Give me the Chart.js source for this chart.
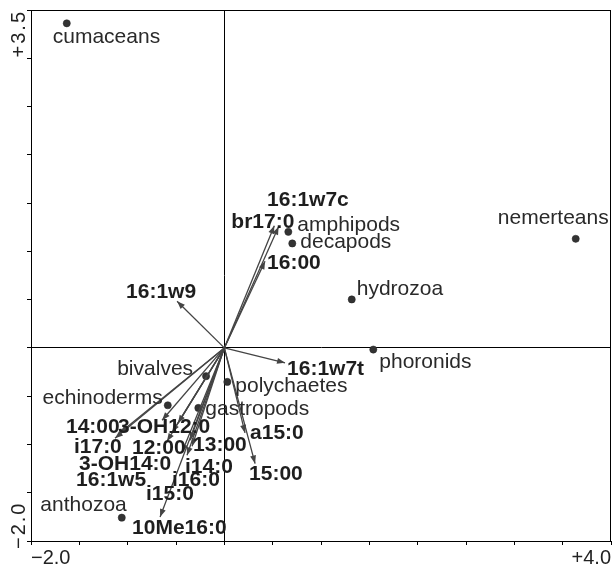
<!DOCTYPE html>
<html><head><meta charset="utf-8">
<script src="https://cdn.jsdelivr.net/npm/chart.js@4.4.1/dist/chart.umd.min.js"></script>
<style>html,body{margin:0;padding:0;background:#fff}#wrap{width:616px;height:567px;position:relative}</style>
</head><body><div id="wrap"><canvas id="c" width="616" height="567"></canvas></div>
<script>
// ---- DATA ----
const speciesNames = ["cumaceans","nemerteans","amphipods","decapods","hydrozoa","phoronids","bivalves","polychaetes","echinoderms","gastropods","anthozoa"];
const speciesX = [-1.63, 3.635, 0.662, 0.703, 1.318, 1.541, -0.189, 0.031, -0.585, -0.269, -1.061];
const speciesY = [3.362, 1.130, 1.202, 1.082, 0.502, -0.017, -0.293, -0.352, -0.594, -0.622, -1.758];

const acidNames = ["16:1w7c","br17:0","16:00","16:1w9","16:1w7t","a15:0","15:00","10Me16:0","14:00","i17:0","3-OH12:0","12:00","3-OH14:0","16:1w5","13:00","i14:0","i16:0","i15:0"];
const acidX = [0.561, 0.517, 0.421, -0.489, 0.628, 0.214, 0.318, -0.665, -1.131, -1.08, -0.644, -0.593, -0.541, -0.479, -0.334, -0.386, -0.355, -0.438];
const acidY = [1.256, 1.266, 0.898, 0.484, -0.155, -0.881, -1.198, -1.751, -0.936, -0.88, -0.749, -0.967, -0.874, -0.780, -1.019, -1.112, -0.956, -1.081];

const xTickLabels = {"-2": "\u22122.0", "4": "+4.0"};
const yTickLabels = {"-2": "\u22122.0", "3.5": "+3.5"};

// ---- STYLE (label placement offsets in px) ----
const speciesLabelStyle = [
  {a:"left",dx:-14,dy:14},{a:"right",dx:33,dy:-21},{a:"left",dx:9,dy:-7},{a:"left",dx:8,dy:-1},
  {a:"left",dx:5,dy:-10},{a:"left",dx:6,dy:13},{a:"right",dx:-13,dy:-7},{a:"left",dx:8,dy:4},
  {a:"right",dx:-5,dy:-7},{a:"left",dx:7,dy:1},{a:"right",dx:5,dy:-12}
];
const acidLabelStyle = [
  {dx:-11.5,dy:-26},{dx:-43,dy:-3},{dx:2,dy:2},{dx:-51,dy:-9},{dx:2,dy:6},{dx:5,dy:0},{dx:-6,dy:11},
  {dx:-28,dy:11},{dx:-49,dy:-11},{dx:-46,dy:14},{dx:-44,dy:7},{dx:-35,dy:7},{dx:-93,dy:32},
  {dx:-102,dy:57},{dx:1,dy:-1},{dx:-2,dy:12},{dx:-18,dy:40},{dx:-36,dy:42}
];
const FONT = "'Liberation Sans', Arial, Helvetica, sans-serif";
const ARROW_COLOR = "#444";

const datasets = [];
acidNames.forEach((n,i)=>{
  datasets.push({type:'line', label:n, data:[{x:0,y:0},{x:acidX[i],y:acidY[i]}],
    borderColor:ARROW_COLOR, borderWidth:1.3, pointRadius:0, fill:false, showLine:true, tension:0});
});
datasets.push({type:'scatter', label:'species', data:speciesX.map((x,i)=>({x, y:speciesY[i]})),
  pointRadius:3.6, backgroundColor:'#333', borderColor:'#222', borderWidth:0.5});

const overlay = {
  id:'overlay',
  afterDatasetsDraw(chart){
    const ctx = chart.ctx, xs = chart.scales.x, ys = chart.scales.y, ca = chart.chartArea;
    ctx.save();
    ctx.strokeStyle = '#000'; ctx.lineWidth = 1;
    ctx.strokeRect(Math.round(ca.left)+0.5, Math.round(ca.top)+0.5, Math.round(ca.right-ca.left)-1, Math.round(ca.bottom-ca.top));
    const ox = xs.getPixelForValue(0), oy = ys.getPixelForValue(0);
    ctx.fillStyle = ARROW_COLOR;
    acidNames.forEach((n,i)=>{
      const tx = xs.getPixelForValue(acidX[i]), ty = ys.getPixelForValue(acidY[i]);
      const ang = Math.atan2(ty-oy, tx-ox), L = 8, W = 3;
      ctx.beginPath();
      ctx.moveTo(tx, ty);
      ctx.lineTo(tx - L*Math.cos(ang) + W*Math.sin(ang), ty - L*Math.sin(ang) - W*Math.cos(ang));
      ctx.lineTo(tx - L*Math.cos(ang) - W*Math.sin(ang), ty - L*Math.sin(ang) + W*Math.cos(ang));
      ctx.closePath(); ctx.fill();
    });
    ctx.font = "21px " + FONT; ctx.fillStyle = '#2a2a2a'; ctx.textBaseline = 'middle';
    speciesNames.forEach((n,i)=>{
      const s = speciesLabelStyle[i];
      ctx.textAlign = s.a;
      ctx.fillText(n, xs.getPixelForValue(speciesX[i]) + s.dx, ys.getPixelForValue(speciesY[i]) + s.dy);
    });
    ctx.font = "bold 21px " + FONT; ctx.fillStyle = '#1e1e1e'; ctx.textAlign = 'left';
    acidNames.forEach((n,i)=>{
      const s = acidLabelStyle[i];
      ctx.fillText(n, xs.getPixelForValue(acidX[i]) + s.dx, ys.getPixelForValue(acidY[i]) + s.dy);
    });
    ctx.font = "20px " + FONT; ctx.fillStyle = '#222';
    Object.keys(yTickLabels).forEach(k=>{
      const v = parseFloat(k), py = ys.getPixelForValue(v);
      ctx.save();
      ctx.translate(19, py);
      ctx.rotate(-Math.PI/2);
      ctx.textBaseline = 'middle';
      ctx.letterSpacing = '2px';
      ctx.textAlign = v > 0 ? 'right' : 'left';
      ctx.fillText(yTickLabels[k], v > 0 ? 0 : -8, 0);
      ctx.restore();
    });
    ctx.restore();
  }
};

const zeroOnly = c => (c.tick && c.tick.value === 0) ? '#000' : 'rgba(0,0,0,0)';

new Chart(document.getElementById('c'), {
  type:'scatter',
  data:{datasets},
  options:{
    responsive:false, animation:false, devicePixelRatio:1,
    layout:{padding:{top:10,right:5,left:0,bottom:0}},
    plugins:{legend:{display:false}, tooltip:{enabled:false}},
    scales:{
      x:{type:'linear', min:-2, max:4,
        afterFit(s){ s.height = 26; },
        grid:{color:zeroOnly, lineWidth:1, drawTicks:true, tickLength:4, tickColor:'#000'},
        border:{display:true, color:'#000', width:1},
        ticks:{stepSize:0.5, autoSkip:false, maxRotation:0, align:'inner', padding:1,
          color:'#222', font:{family:FONT, size:20},
          callback:(v)=> xTickLabels[String(v)] || ''}
      },
      y:{type:'linear', min:-2, max:3.5,
        afterFit(s){ s.width = 31; },
        grid:{color:zeroOnly, lineWidth:1, drawTicks:true, tickLength:4, tickColor:'#000'},
        border:{display:true, color:'#000', width:1},
        ticks:{stepSize:0.5, autoSkip:false, display:false}
      }
    }
  },
  plugins:[overlay]
});
</script>
</body></html>
